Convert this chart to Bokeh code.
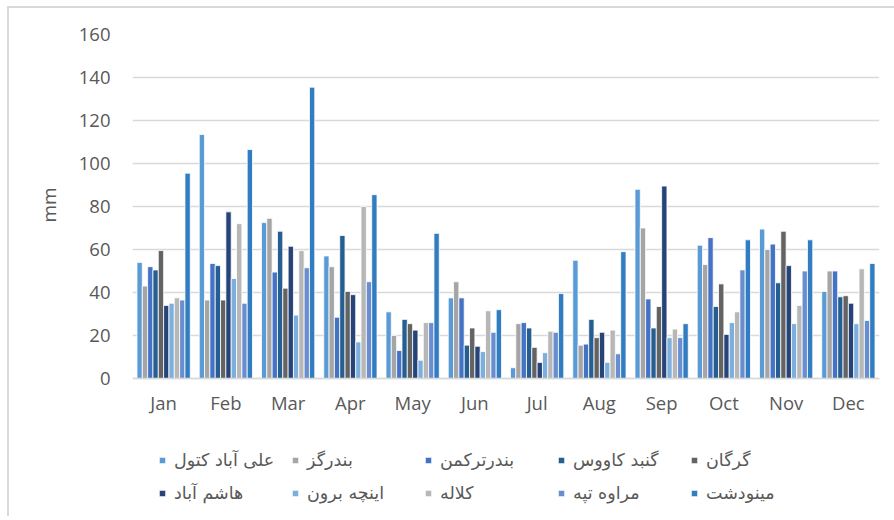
from bokeh.plotting import figure
from bokeh.models import ColumnDataSource, Legend, LegendItem, FactorRange, Title
from bokeh.transform import dodge
from bokeh.embed import file_html
from bokeh.resources import INLINE

months = ["Jan", "Feb", "Mar", "Apr", "May", "Jun", "Jul", "Aug", "Sep", "Oct", "Nov", "Dec"]
series_names = ["علی آباد کتول", "بندرگز", "بندرترکمن", "گنبد کاووس", "گرگان",
                "هاشم آباد", "اینچه برون", "کلاله", "مراوه تپه", "مینودشت"]
ali_abad = [54, 113.5, 72.5, 57, 31, 37.5, 5, 55, 88, 62, 69.5, 40.5]
bandargaz = [43, 36.5, 74.5, 52, 20, 45, 25.5, 15.5, 70, 53, 60, 50]
bandar_torkaman = [52, 53.5, 49.5, 28.5, 13, 37.5, 26, 16, 37, 65.5, 62.5, 50]
gonbad = [50.5, 52.5, 68.5, 66.5, 27.5, 15.5, 23.5, 27.5, 23.5, 33.5, 44.5, 38]
gorgan = [59.5, 36.5, 42, 40.5, 25.5, 23.5, 14.5, 19, 33.5, 44, 68.5, 38.5]
hashem_abad = [34, 77.5, 61.5, 39, 22.5, 15, 7.5, 21.5, 89.5, 20.5, 52.5, 35]
incheh_borun = [35, 46.5, 29.5, 17, 8.5, 12.5, 12, 7.5, 19, 26, 25.5, 25.5]
kalaleh = [37.5, 72, 59.5, 80, 26, 31.5, 22, 22.5, 23, 31, 34, 51]
maraveh_tappeh = [36.5, 35, 51.5, 45, 26, 21.5, 21.5, 11.5, 19, 50.5, 50, 27]
minudasht = [95.5, 106.5, 135.5, 85.5, 67.5, 32, 39.5, 59, 25.5, 64.5, 64.5, 53.5]
y_ticks = [0, 20, 40, 60, 80, 100, 120, 140, 160]
y_label = "mm"

series_values = [ali_abad, bandargaz, bandar_torkaman, gonbad, gorgan,
                 hashem_abad, incheh_borun, kalaleh, maraveh_tappeh, minudasht]
colors = ["#5B9BD5", "#A5A5A5", "#4472C4", "#255E91", "#636363",
          "#264478", "#7CAFDD", "#B7B7B7", "#698ED0", "#327DC2"]

data = {"month": months}
for i, vals in enumerate(series_values):
    data[f"s{i}"] = vals
source = ColumnDataSource(data)

# frame reaches below the zero line so that the legend fits inside it
p = figure(x_range=FactorRange(*months, range_padding=0), y_range=(-62.33, 160),
           frame_width=747, frame_height=478, output_backend="svg", toolbar_location=None,
           min_border_left=123, min_border_right=15, min_border_top=26, min_border_bottom=4)
p.margin = (6, 0, 0, 7)
p.styles = {"border-left": "2px solid #d9d9d9", "border-top": "2px solid #d9d9d9"}

bw = 0.0856
items = []
for i, name in enumerate(series_names):
    off = (i - 4.5) * bw
    r = p.vbar(x=dodge("month", off, range=p.x_range), top=f"s{i}", width=bw, source=source,
               fill_color=colors[i], line_color="white", line_width=0.8)
    items.append(LegendItem(label=name, renderers=[r]))

p.outline_line_color = None
p.background_fill_color = "white"
p.border_fill_color = "white"
p.xgrid.grid_line_color = None
p.ygrid.grid_line_color = "#d9d9d9"
p.ygrid.grid_line_width = 1.3
p.yaxis.ticker = y_ticks
p.xaxis.fixed_location = 0

font = "Open Sans"
for ax in (p.xaxis[0], p.yaxis[0]):
    ax.major_tick_line_color = None
    ax.minor_tick_line_color = None
    ax.major_label_text_font = font
    ax.major_label_text_font_size = "18.5px"
    ax.major_label_text_color = "#595959"
p.yaxis.axis_line_color = None
p.xaxis.axis_line_color = "#d9d9d9"
p.xaxis.axis_line_width = 1.5
p.xaxis.major_label_standoff = 6
p.yaxis.major_label_standoff = 16

ylab = Title(text=y_label, align="left", offset=290, standoff=28,
             text_font=font, text_font_size="19px", text_font_style="normal",
             text_color="#595959")
p.add_layout(ylab, "left")

legend = Legend(items=items, orientation="horizontal", nrows=2, ncols=5,
                location=(26, 8), padding=0, margin=0, spacing=11,
                glyph_width=8, glyph_height=8, label_standoff=8, label_width=106,
                label_height=22, border_line_color=None, background_fill_alpha=0,
                label_text_font="DejaVu Sans", label_text_font_size="17.5px",
                label_text_color="#595959")
p.add_layout(legend, "center")

open("out.html", "w").write(file_html(p, INLINE))
